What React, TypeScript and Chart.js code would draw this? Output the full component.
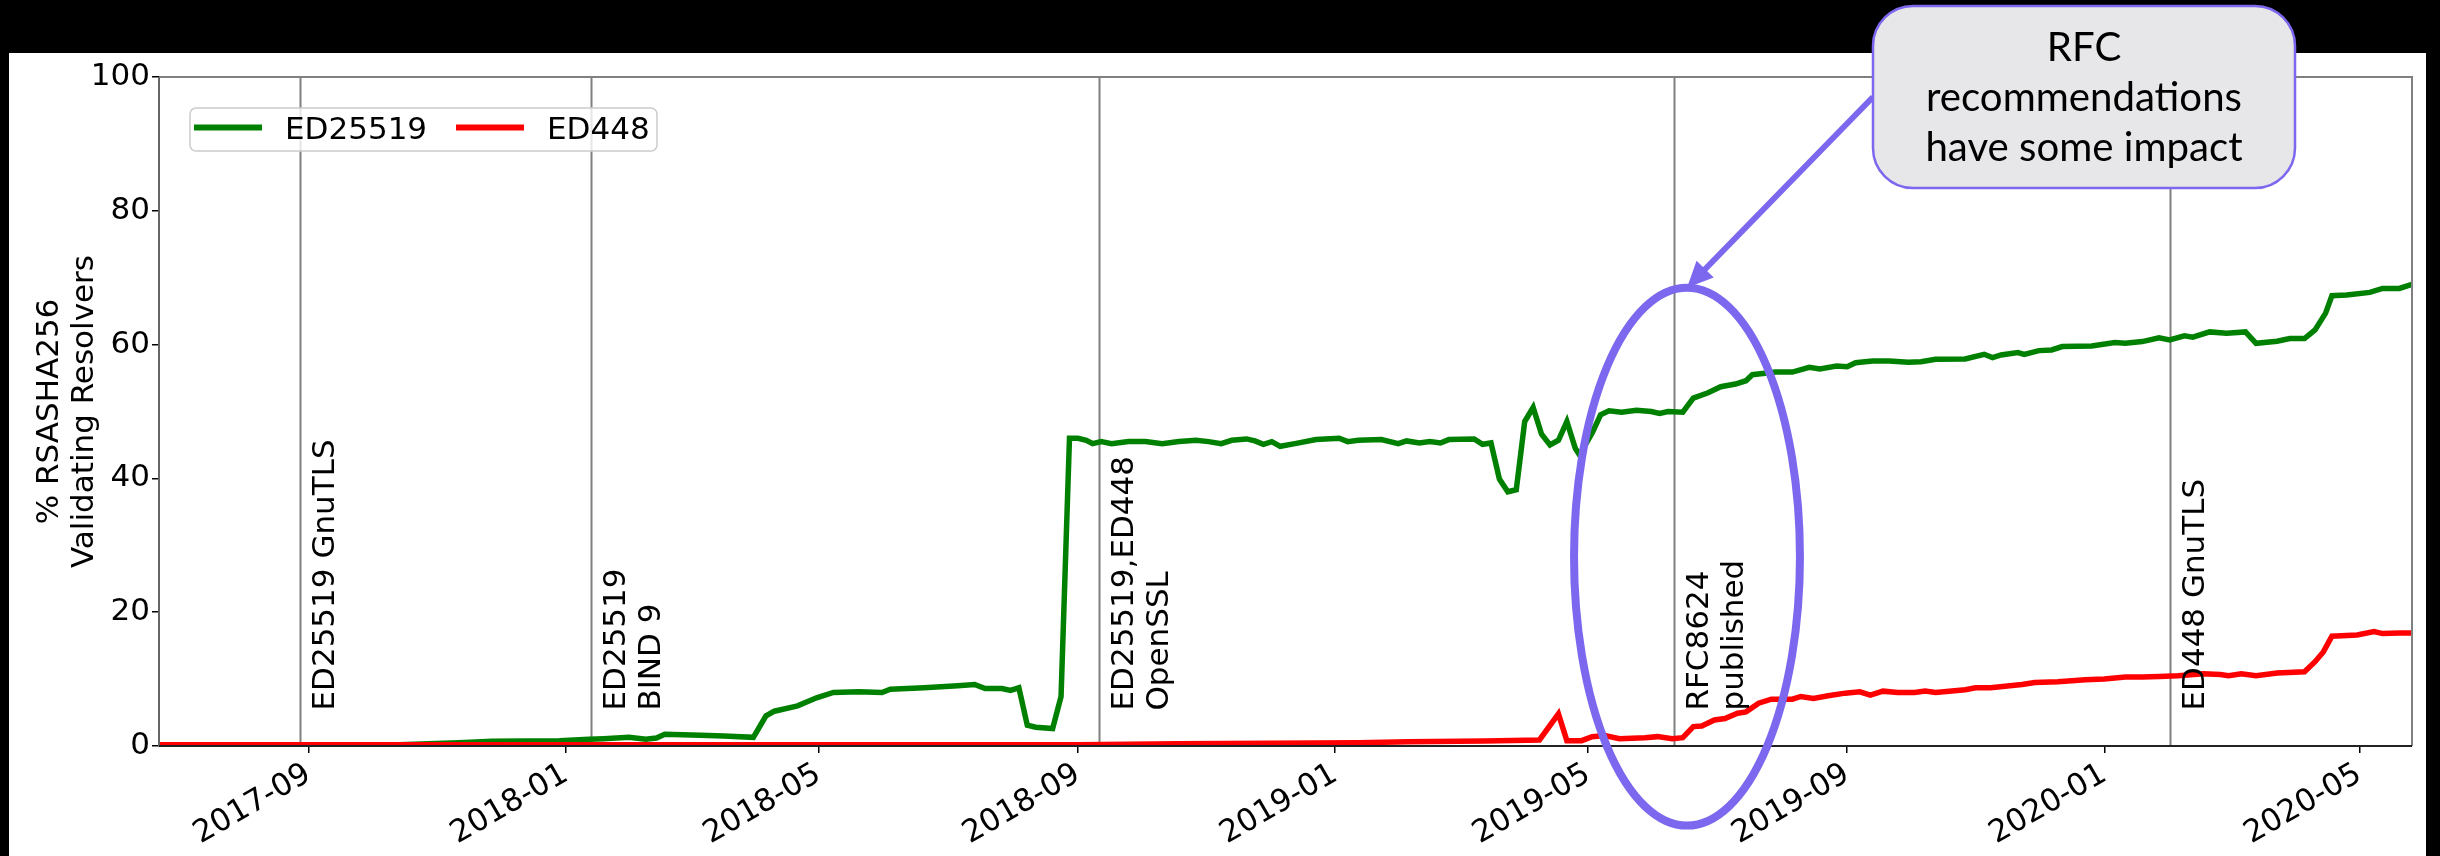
import React, { useEffect, useRef } from 'react';
import { Chart, registerables } from 'chart.js';

Chart.register(...registerables);

const W = 2440;
const H = 856;

const xTickLabels = ['2017-09', '2018-01', '2018-05', '2018-09', '2019-01', '2019-05', '2019-09', '2020-01', '2020-05'];
const xDomain = ['2017-06-22', '2020-05-26'];
const yTickValues = [0, 20, 40, 60, 80, 100];

const ed25519Dates = [
  '2017-06-22', '2017-09-15', '2017-10-14', '2017-11-11', '2017-11-27', '2017-12-29',
  '2018-01-12', '2018-01-19', '2018-01-31', '2018-02-08', '2018-02-13', '2018-02-17', '2018-03-06', '2018-03-17', '2018-03-31',
  '2018-04-06', '2018-04-10', '2018-04-21', '2018-04-30', '2018-05-08', '2018-05-20', '2018-05-31', '2018-06-04', '2018-06-20',
  '2018-07-06', '2018-07-14', '2018-07-19', '2018-07-27', '2018-07-31', '2018-08-04', '2018-08-08', '2018-08-12', '2018-08-20', '2018-08-24', '2018-08-28',
  '2018-09-01', '2018-09-05', '2018-09-08', '2018-09-12', '2018-09-17', '2018-09-25', '2018-10-03', '2018-10-11', '2018-10-19', '2018-10-27',
  '2018-11-02', '2018-11-08', '2018-11-13', '2018-11-20', '2018-11-24', '2018-11-28', '2018-12-02', '2018-12-06', '2018-12-13', '2018-12-23',
  '2019-01-03', '2019-01-07', '2019-01-12', '2019-01-23', '2019-01-31', '2019-02-04', '2019-02-10', '2019-02-15', '2019-02-20', '2019-02-24',
  '2019-03-08', '2019-03-12', '2019-03-16', '2019-03-20', '2019-03-24', '2019-03-28', '2019-04-01', '2019-04-05', '2019-04-09', '2019-04-13',
  '2019-04-17', '2019-04-21', '2019-04-25', '2019-04-27', '2019-05-03', '2019-05-07', '2019-05-11', '2019-05-17', '2019-05-24', '2019-05-31',
  '2019-06-04', '2019-06-08', '2019-06-15', '2019-06-20', '2019-06-27', '2019-07-03', '2019-07-10', '2019-07-15', '2019-07-18', '2019-07-29',
  '2019-08-06', '2019-08-14', '2019-08-19', '2019-08-27', '2019-09-01', '2019-09-05', '2019-09-13', '2019-09-21', '2019-09-30', '2019-10-06',
  '2019-10-13', '2019-10-27', '2019-11-05', '2019-11-09', '2019-11-13', '2019-11-21', '2019-11-24', '2019-12-01', '2019-12-07', '2019-12-12',
  '2019-12-26', '2020-01-06', '2020-01-11', '2020-01-19', '2020-01-27', '2020-02-01', '2020-02-08', '2020-02-12', '2020-02-20', '2020-02-28',
  '2020-03-08', '2020-03-13', '2020-03-23', '2020-03-29', '2020-04-05', '2020-04-10', '2020-04-15', '2020-04-18', '2020-04-25', '2020-05-06',
  '2020-05-12', '2020-05-20', '2020-05-26',
];
const ed25519Values = [
  0.1, 0.1, 0.2, 0.5, 0.7, 0.8,
  1.0, 1.1, 1.3, 1.0, 1.2, 1.75, 1.6, 1.5, 1.3,
  4.5, 5.2, 6.0, 7.2, 8.0, 8.1, 8.0, 8.5, 8.7,
  9.0, 9.2, 8.6, 8.6, 8.3, 8.7, 3.1, 2.8, 2.6, 7.4, 46.0,
  46.0, 45.7, 45.2, 45.5, 45.2, 45.5, 45.5, 45.2, 45.5, 45.7,
  45.5, 45.2, 45.7, 45.9, 45.6, 45.1, 45.5, 44.8, 45.2, 45.8,
  46.0, 45.5, 45.7, 45.8, 45.2, 45.6, 45.3, 45.5, 45.3, 45.8,
  45.9, 45.1, 45.3, 39.9, 38.0, 38.3, 48.5, 50.6, 46.6, 45.0,
  45.7, 48.5, 44.5, 43.5, 46.8, 49.5, 50.1, 49.9, 50.2, 50.0,
  49.7, 50.0, 49.9, 52.0, 52.8, 53.7, 54.1, 54.6, 55.5, 55.9,
  55.9, 56.6, 56.35, 56.8, 56.7, 57.3, 57.55, 57.55, 57.35, 57.45,
  57.8, 57.85, 58.55, 58.05, 58.45, 58.8, 58.55, 59.1, 59.2, 59.7,
  59.8, 60.3, 60.2, 60.45, 61.0, 60.7, 61.3, 61.1, 61.9, 61.7,
  61.9, 60.2, 60.5, 60.9, 60.9, 62.2, 64.7, 67.3, 67.4, 67.8,
  68.4, 68.4, 69.0,
];

const ed448Dates = [
  '2017-06-22', '2018-09-01', '2018-10-19', '2019-01-12', '2019-02-05', '2019-03-13', '2019-04-08', '2019-04-17', '2019-04-21', '2019-04-28',
  '2019-05-03', '2019-05-09', '2019-05-16', '2019-05-28', '2019-06-03', '2019-06-10', '2019-06-15', '2019-06-20', '2019-06-24', '2019-06-30',
  '2019-07-05', '2019-07-11', '2019-07-15', '2019-07-21', '2019-07-27', '2019-08-06', '2019-08-10', '2019-08-16', '2019-08-23', '2019-08-31',
  '2019-09-07', '2019-09-12', '2019-09-18', '2019-09-25', '2019-10-03', '2019-10-08', '2019-10-13', '2019-10-27', '2019-11-01', '2019-11-08',
  '2019-11-23', '2019-11-29', '2019-12-10', '2019-12-23', '2020-01-01', '2020-01-11', '2020-01-19', '2020-01-27', '2020-02-05', '2020-02-17',
  '2020-02-25', '2020-02-29', '2020-03-06', '2020-03-13', '2020-03-23', '2020-04-05', '2020-04-10', '2020-04-14', '2020-04-18', '2020-04-30',
  '2020-05-08', '2020-05-12', '2020-05-20', '2020-05-26',
];
const ed448Values = [
  0.2, 0.2, 0.35, 0.5, 0.65, 0.75, 0.9, 4.8, 0.8, 0.8,
  1.4, 1.55, 1.1, 1.25, 1.4, 1.1, 1.25, 2.9, 3.0, 3.9,
  4.1, 4.9, 5.1, 6.4, 7.0, 7.0, 7.4, 7.1, 7.5, 7.9,
  8.1, 7.6, 8.2, 8.0, 8.0, 8.2, 8.0, 8.4, 8.7, 8.7,
  9.2, 9.5, 9.6, 9.9, 10.0, 10.3, 10.3, 10.4, 10.5, 10.8,
  10.7, 10.5, 10.8, 10.5, 10.9, 11.1, 12.6, 14.1, 16.4, 16.6,
  17.1, 16.8, 16.9, 16.9,
];

const eventDates = ['2017-08-28', '2018-01-13', '2018-09-11', '2019-06-11', '2020-02-01'];
const eventLabels = [
  ['ED25519 GnuTLS'],
  ['ED25519', 'BIND 9'],
  ['ED25519,ED448', 'OpenSSL'],
  ['RFC8624', 'published'],
  ['ED448 GnuTLS'],
];

const seriesNames = ['ED25519', 'ED448'];
const yAxisTitle = ['% RSASHA256', 'Validating Resolvers'];
const calloutLines = ['RFC', 'recommendations', 'have some impact'];

const GREEN = '#008000';
const RED = '#ff0000';
const PURPLE = '#7B68EE';
const FONT = '"DejaVu Sans", sans-serif';

const toMs = (s: string) => Date.parse(s);

function roundRect(ctx: CanvasRenderingContext2D, x: number, y: number, w: number, h: number, r: number) {
  ctx.beginPath();
  ctx.moveTo(x + r, y);
  ctx.lineTo(x + w - r, y);
  ctx.arcTo(x + w, y, x + w, y + r, r);
  ctx.lineTo(x + w, y + h - r);
  ctx.arcTo(x + w, y + h, x + w - r, y + h, r);
  ctx.lineTo(x + r, y + h);
  ctx.arcTo(x, y + h, x, y + h - r, r);
  ctx.lineTo(x, y + r);
  ctx.arcTo(x, y, x + r, y, r);
  ctx.closePath();
}

const overlay = {
  id: 'overlay',
  beforeDraw(chart: any) {
    const ctx = chart.ctx as CanvasRenderingContext2D;
    ctx.save();
    ctx.fillStyle = '#000';
    ctx.fillRect(0, 0, W, H);
    ctx.fillStyle = '#fff';
    ctx.fillRect(9, 53, 2426 - 9, H - 53);
    ctx.restore();
  },
  beforeDatasetsDraw(chart: any) {
    const ctx = chart.ctx as CanvasRenderingContext2D;
    const { top, bottom } = chart.chartArea;
    const xs = chart.scales.x;
    ctx.save();
    ctx.strokeStyle = '#808080';
    ctx.lineWidth = 2;
    eventDates.forEach((d) => {
      const x = Math.round(xs.getPixelForValue(toMs(d))) + 0.5;
      ctx.beginPath();
      ctx.moveTo(x, top);
      ctx.lineTo(x, bottom);
      ctx.stroke();
    });
    ctx.restore();
  },
  afterDatasetsDraw(chart: any) {
    const ctx = chart.ctx as CanvasRenderingContext2D;
    const { left, right, top, bottom } = chart.chartArea;
    const xs = chart.scales.x;
    const ys = chart.scales.y;
    ctx.save();
    // event labels
    ctx.fillStyle = '#000';
    ctx.font = `31px ${FONT}`;
    ctx.textAlign = 'left';
    ctx.textBaseline = 'alphabetic';
    const yText = ys.getPixelForValue(5) - 2;
    eventDates.forEach((d, i) => {
      const x = xs.getPixelForValue(toMs(d));
      eventLabels[i].forEach((line, j) => {
        ctx.save();
        ctx.translate(x + 34 + j * 35, yText);
        ctx.rotate(-Math.PI / 2);
        ctx.fillText(line, 0, 0);
        ctx.restore();
      });
    });
    // frame
    ctx.lineWidth = 2;
    ctx.strokeStyle = '#808080';
    ctx.beginPath();
    ctx.moveTo(left, top);
    ctx.lineTo(right, top);
    ctx.lineTo(right, bottom);
    ctx.stroke();
    ctx.strokeStyle = '#666';
    ctx.beginPath();
    ctx.moveTo(left, top);
    ctx.lineTo(left, bottom);
    ctx.stroke();
    ctx.strokeStyle = '#222';
    ctx.beginPath();
    ctx.moveTo(left, bottom);
    ctx.lineTo(right, bottom);
    ctx.stroke();
    // legend
    roundRect(ctx, 190, 108, 657 - 190, 151 - 108, 6);
    ctx.fillStyle = 'rgba(255,255,255,0.8)';
    ctx.fill();
    ctx.strokeStyle = '#cccccc';
    ctx.lineWidth = 1.5;
    ctx.stroke();
    const entries = [
      { name: seriesNames[0], color: GREEN, x0: 194 },
      { name: seriesNames[1], color: RED, x0: 456 },
    ];
    entries.forEach((e) => {
      ctx.strokeStyle = e.color;
      ctx.lineWidth = 6;
      ctx.beginPath();
      ctx.moveTo(e.x0, 127.5);
      ctx.lineTo(e.x0 + 68, 127.5);
      ctx.stroke();
      ctx.fillStyle = '#000';
      ctx.font = `31px ${FONT}`;
      ctx.textBaseline = 'alphabetic';
      ctx.fillText(e.name, e.x0 + 91, 139);
    });
    ctx.restore();
  },
  afterDraw(chart: any) {
    const ctx = chart.ctx as CanvasRenderingContext2D;
    const { top, bottom } = chart.chartArea;
    const xs = chart.scales.x;
    const ys = chart.scales.y;
    ctx.save();
    // y-axis title
    ctx.fillStyle = '#000';
    ctx.font = `31px ${FONT}`;
    ctx.textAlign = 'center';
    ctx.textBaseline = 'middle';
    const cy = (top + bottom) / 2;
    yAxisTitle.forEach((line, j) => {
      ctx.save();
      ctx.translate(50 + j * 35, cy);
      ctx.rotate(-Math.PI / 2);
      ctx.fillText(line, 0, 0);
      ctx.restore();
    });
    // ellipse around RFC publication
    const ex = xs.getPixelForValue(toMs('2019-06-17'));
    const ey = ys.getPixelForValue(28.3);
    const pxPerDay = xs.getPixelForValue(toMs('2019-06-18')) - xs.getPixelForValue(toMs('2019-06-17'));
    const pxPerUnit = ys.getPixelForValue(0) - ys.getPixelForValue(1);
    const rx = 53.6 * pxPerDay;
    const ry = 40.2 * pxPerUnit;
    ctx.strokeStyle = PURPLE;
    ctx.lineWidth = 8;
    ctx.beginPath();
    ctx.ellipse(ex, ey, rx, ry, 0, 0, Math.PI * 2);
    ctx.stroke();
    // arrow from callout to ellipse top
    const sx = 1873, sy = 97;
    const tx = ex, ty = ey - ry;
    const dx = tx - sx, dy = ty - sy;
    const len = Math.hypot(dx, dy);
    const ux = dx / len, uy = dy / len;
    const headLen = 26, headW = 12;
    const bx = tx - ux * headLen, by = ty - uy * headLen;
    ctx.lineWidth = 6;
    ctx.lineCap = 'butt';
    ctx.beginPath();
    ctx.moveTo(sx, sy);
    ctx.lineTo(bx + ux * 4, by + uy * 4);
    ctx.stroke();
    ctx.fillStyle = PURPLE;
    ctx.beginPath();
    ctx.moveTo(tx, ty);
    ctx.lineTo(bx - uy * headW, by + ux * headW);
    ctx.lineTo(bx + uy * headW, by - ux * headW);
    ctx.closePath();
    ctx.fill();
    // callout box
    roundRect(ctx, 1873, 6, 2295 - 1873, 188 - 6, 40);
    ctx.fillStyle = '#E7E6E8';
    ctx.fill();
    ctx.strokeStyle = PURPLE;
    ctx.lineWidth = 2.5;
    ctx.stroke();
    let size = 40;
    ctx.font = `${size}px Lato, "Open Sans", sans-serif`;
    const w = ctx.measureText(calloutLines[1]).width;
    size = (size * 316) / w;
    ctx.font = `${size}px Lato, "Open Sans", sans-serif`;
    ctx.fillStyle = '#000';
    ctx.textAlign = 'center';
    ctx.textBaseline = 'alphabetic';
    const ccx = (1873 + 2295) / 2;
    calloutLines.forEach((line, j) => {
      ctx.fillText(line, ccx, 61 + j * 50);
    });
    ctx.restore();
  },
};

export default function App() {
  const ref = useRef<HTMLCanvasElement>(null);
  useEffect(() => {
    const canvas = ref.current;
    if (!canvas) return;
    Chart.defaults.font.family = FONT;
    const greenData = ed25519Dates.map((d, i) => ({ x: toMs(d), y: ed25519Values[i] }));
    const redData = ed448Dates.map((d, i) => ({ x: toMs(d), y: ed448Values[i] }));
    const chart = new Chart(canvas, {
      type: 'line',
      data: {
        datasets: [
          { label: seriesNames[0], data: greenData, borderColor: GREEN, backgroundColor: GREEN, borderWidth: 5.5, pointRadius: 0, tension: 0, fill: false, order: 1 },
          { label: seriesNames[1], data: redData, borderColor: RED, backgroundColor: RED, borderWidth: 5.5, pointRadius: 0, tension: 0, fill: false, order: 0 },
        ],
      },
      options: {
        animation: false,
        responsive: false,
        devicePixelRatio: 1,
        events: [],
        layout: { padding: { left: 9, top: 77, right: 28, bottom: 0 } },
        plugins: { legend: { display: false }, tooltip: { enabled: false }, title: { display: false } },
        scales: {
          x: {
            type: 'linear',
            min: toMs(xDomain[0]),
            max: toMs(xDomain[1]),
            afterBuildTicks: (scale: any) => {
              scale.ticks = xTickLabels.map((l) => ({ value: toMs(l + '-01') }));
            },
            afterFit: (scale: any) => {
              scale.height = 110;
            },
            border: { display: false },
            grid: { display: true, drawOnChartArea: false, drawTicks: true, tickLength: 7, color: '#000', lineWidth: 1.5 },
            ticks: {
              autoSkip: false,
              maxRotation: 30,
              minRotation: 30,
              padding: 3,
              color: '#000',
              font: { size: 31, family: FONT },
              callback: (v: any) => {
                const d = new Date(Number(v));
                return `${d.getUTCFullYear()}-${String(d.getUTCMonth() + 1).padStart(2, '0')}`;
              },
            },
          },
          y: {
            type: 'linear',
            min: yTickValues[0],
            max: yTickValues[yTickValues.length - 1],
            afterBuildTicks: (scale: any) => {
              scale.ticks = yTickValues.map((v) => ({ value: v }));
            },
            afterFit: (scale: any) => {
              scale.width = 150;
            },
            border: { display: false },
            grid: { display: true, drawOnChartArea: false, drawTicks: true, tickLength: 7, color: '#000', lineWidth: 1.5 },
            ticks: { padding: 2, color: '#000', font: { size: 31, family: FONT } },
          },
        },
      },
      plugins: [overlay],
    } as any);
    return () => chart.destroy();
  }, []);
  return (
    <div style={{ position: 'fixed', left: 0, top: 0, width: W, height: H, background: '#000' }}>
      <canvas ref={ref} width={W} height={H} style={{ display: 'block', width: W, height: H }} />
    </div>
  );
}
